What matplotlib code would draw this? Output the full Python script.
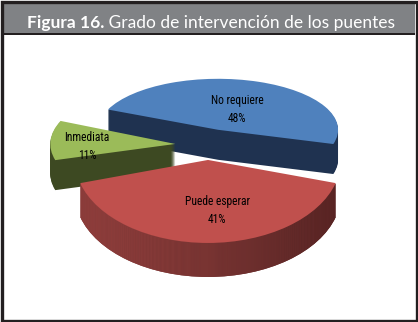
import matplotlib
matplotlib.use("Agg")
import matplotlib.pyplot as plt
import numpy as np
from matplotlib.patches import Rectangle
from matplotlib.colors import LinearSegmentedColormap
from matplotlib.transforms import ScaledTranslation
from matplotlib import font_manager

# ---- data ----
categories = ["No requiere", "Puede esperar", "Inmediata"]
values = [48, 41, 11]
pct_labels = ["48%", "41%", "11%"]
title_bold = "Figura 16."
title_rest = " Grado de intervención de los puentes"

# ---- styles ----
top_colors = ["#4f81bd", "#c0504d", "#9bbb59"]
side_colors = ["#1f3250", "#6e2f2e", "#3d4922"]
side_grad = [None, ["#a04644", "#7a3533", "#4a1e1e"], None]
W, H = 418, 322
start = 156.6
explode_amt = 0.15
# per-slice projection (centre px x, centre px y, rx px, ry px, depth px, label distance)
geom = [
    (212, 137, 120, 51, 30, 0.45),
    (208, 147.5, 133, 83, 34, 0.58),
    (194, 144.5, 125, 58, 30, 0.70),
]
label_shift = [(1, 1), (9, 2), (-1, 5)]  # px
draw_order = [0, 2, 1]

# pick a narrow font if available
label_family = "DejaVu Sans"
for cand in ["Liberation Sans Narrow", "DejaVu Sans Condensed", "Roboto Condensed",
             "Open Sans Condensed", "Noto Sans Condensed"]:
    try:
        font_manager.findfont(cand, fallback_to_default=False)
        label_family = cand
        break
    except Exception:
        pass

fig = plt.figure(figsize=(W / 100, H / 100), dpi=100)
fig.patch.set_facecolor("white")

# calibrate label font size so that "Puede esperar" is ~65 px wide
renderer = fig.canvas.get_renderer()
probe = fig.text(0, 0, "Puede esperar", fontsize=10, family=label_family)
pw = probe.get_window_extent(renderer).width
probe.remove()
label_size = 10 * 65 / pw

for z, i in enumerate(draw_order):
    cx, cy, rx, ry, depth, ldist = geom[i]
    ax = fig.add_axes([0, 0, 1, 1], zorder=10 + z)
    ax.set_axis_off()
    ax.patch.set_visible(False)
    explode = [explode_amt if j == i else 0 for j in range(len(values))]
    cmap = None
    if side_grad[i] is not None:
        cmap = LinearSegmentedColormap.from_list("g%d" % i, side_grad[i])
    zbase = 0
    for k in range(depth, 0, -1):
        wedges, _ = ax.pie(values, startangle=start, counterclock=False,
                           explode=explode, center=(0, -k / ry),
                           colors=[side_colors[i]] * len(values),
                           wedgeprops=dict(linewidth=0))
        for j, w in enumerate(wedges):
            if j != i:
                w.set_visible(False)
            else:
                w.set_zorder(zbase)
                if cmap is not None:
                    grad = np.linspace(0, 1, 256).reshape(1, -1)
                    im = ax.imshow(grad, cmap=cmap, aspect="auto",
                                   extent=(-1.2, 1.2, -1.6, 0.4),
                                   interpolation="bilinear", zorder=zbase + 0.5)
                    im.set_clip_path(w)
        zbase += 1
    wedges, texts = ax.pie(values, startangle=start, counterclock=False,
                           explode=explode, center=(0, 0),
                           colors=top_colors,
                           labels=[f"{c}\n{p}" for c, p in zip(categories, pct_labels)],
                           labeldistance=ldist,
                           wedgeprops=dict(linewidth=0),
                           textprops=dict(fontsize=label_size, family=label_family,
                                          color="black"))
    for j, (w, t) in enumerate(zip(wedges, texts)):
        if j != i:
            w.set_visible(False)
            t.set_visible(False)
        else:
            w.set_zorder(zbase + 1)
            t.set_zorder(zbase + 2)
            t.set_ha("center")
            t.set_va("center")
            t.set_multialignment("center")
            t.set_linespacing(1.5)
            dx, dy = label_shift[i]
            t.set_transform(ax.transData +
                            ScaledTranslation(dx / 100, -dy / 100, fig.dpi_scale_trans))
    ax.set_aspect("auto")
    ax.set_xlim(-cx / rx, (W - cx) / rx)
    ax.set_ylim((cy - H) / ry, cy / ry)

# ---- frame and title bar ----
fax = fig.add_axes([0, 0, 1, 1], zorder=100)
fax.set_axis_off()
fax.patch.set_visible(False)
fax.set_xlim(0, W)
fax.set_ylim(H, 0)
fax.add_patch(Rectangle((3, 3), W - 6, 30, facecolor="#808285", edgecolor="none"))
fax.add_patch(Rectangle((3, 33), W - 6, 2, facecolor="#231f20", edgecolor="none"))
fax.add_patch(Rectangle((1.5, 1.5), W - 3, H - 3, facecolor="none",
                        edgecolor="#231f20", linewidth=2.4))
t1 = fax.text(27, 28.3, title_bold, fontsize=12.5, family="Lato", weight="bold",
              color="white", ha="left", va="baseline")
fax.annotate(title_rest, xy=(1, 0), xycoords=t1, fontsize=12.5, family="Lato",
             color="white", ha="left", va="bottom")

fig.savefig("out.png", dpi=100)
